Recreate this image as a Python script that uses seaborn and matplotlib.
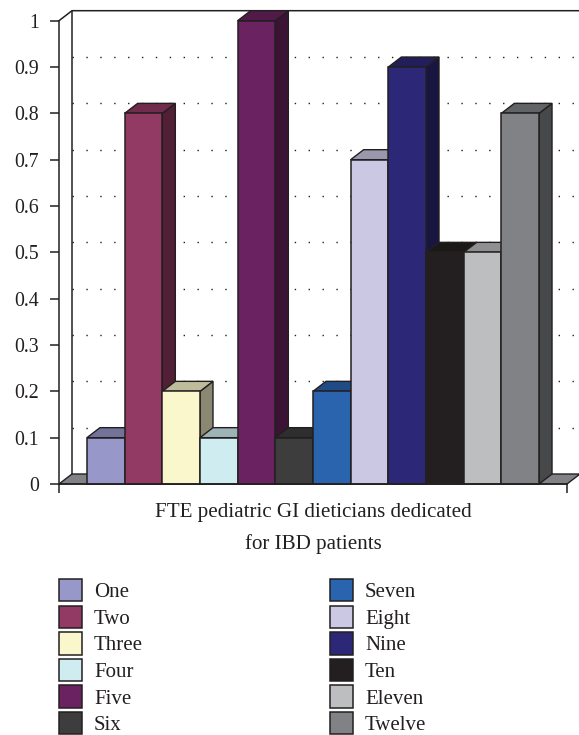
"""
Bar chart with fake 3D depth, FTE dieticians
"""

import matplotlib
matplotlib.use("Agg")
import matplotlib.pyplot as plt
import pandas as pd
import seaborn as sns
from matplotlib.colors import to_rgb
from matplotlib.patches import Polygon

centres = ["One", "Two", "Three", "Four", "Five", "Six",
           "Seven", "Eight", "Nine", "Ten", "Eleven", "Twelve"]
fte = [0.1, 0.8, 0.2, 0.1, 1.0, 0.1, 0.2, 0.7, 0.9, 0.5, 0.5, 0.8]
colors = ["#9797C9", "#933A64", "#FBF7CC", "#CFECF0", "#6B2260", "#3D3D3E",
          "#2A63AE", "#CBC8E4", "#2C2877", "#231F20", "#BDBEC0", "#808285"]
y_ticks = [0, 0.1, 0.2, 0.3, 0.4, 0.5, 0.6, 0.7, 0.8, 0.9, 1]
y_labels = ["0", "0.1", "0.2", "0.3", "0.4", "0.5", "0.6", "0.7", "0.8", "0.9", "1"]
x_title = "FTE pediatric GI dieticians dedicated\nfor IBD patients"

W, H = 579, 735
INK = "#231F20"
LEFT, RIGHT, ZERO, ONE = 59, 567, 484, 20.7
BAR_PX = 37.67
DEPTH_X, DEPTH_Y = 13, 10


def shade(color, factor):
    return tuple(c * factor for c in to_rgb(color))


def main():
    sns.set_style("white")
    plt.rcParams["font.family"] = ["Liberation Serif", "DejaVu Serif"]

    fig = plt.figure(figsize=(W / 100, H / 100), dpi=100)
    ax = fig.add_axes([LEFT / W, 1 - ZERO / H, (RIGHT - LEFT) / W, (ZERO - ONE) / H])

    df = pd.DataFrame({"centre": centres, "fte": fte})
    sns.barplot(data=df, x="centre", y="fte", hue="centre", palette=colors,
                dodge=False, width=1, gap=0, edgecolor=INK, linewidth=1.1,
                saturation=1, legend=True, ax=ax)

    # margen a cada lado de las barras
    pad = (RIGHT - LEFT - BAR_PX * len(centres)) / 2 / BAR_PX
    xmin, xmax = -0.5 - pad, len(centres) - 0.5 + pad
    ax.set_xlim(xmin, xmax)
    ax.set_ylim(0, 1)
    dx = DEPTH_X / BAR_PX
    dy = DEPTH_Y / (ZERO - ONE)

    # pared del fondo, suelo y lineas punteadas
    ax.add_patch(Polygon([(xmin, 0), (xmin + dx, dy), (xmax + dx, dy), (xmax, 0)],
                         closed=True, facecolor="#808285", edgecolor=INK,
                         linewidth=1.0, clip_on=False, zorder=1))
    ax.plot([xmin + dx, xmin + dx], [dy, 1 + dy], color=INK, lw=1.1, clip_on=False, zorder=1)
    ax.plot([xmin, xmin + dx, xmax + dx], [1, 1 + dy, 1 + dy], color=INK, lw=1.1,
            clip_on=False, zorder=1)
    for t in y_ticks[1:-1]:
        ax.plot([xmin + dx, xmax + dx], [t + dy, t + dy], color=INK, lw=1.0,
                linestyle=(0, (1, 9)), clip_on=False, zorder=1)

    # caras superior y lateral de cada barra
    for i, bar in enumerate(ax.patches[:len(centres)]):
        x0, x1 = bar.get_x(), bar.get_x() + bar.get_width()
        h = bar.get_height()
        face = colors[i]
        top = Polygon([(x0, h), (x0 + dx, h + dy), (x1 + dx, h + dy), (x1, h)], closed=True,
                      facecolor=shade(face, 0.76), edgecolor=INK, linewidth=1.0, clip_on=False)
        side = Polygon([(x1, 0), (x1 + dx, dy), (x1 + dx, h + dy), (x1, h)], closed=True,
                       facecolor=shade(face, 0.55), edgecolor=INK, linewidth=1.0, clip_on=False)
        top.set_zorder(3 + i)
        side.set_zorder(3 + i)
        bar.set_zorder(3 + i + 0.5)
        bar.set_clip_on(False)
        ax.add_patch(side)
        ax.add_patch(top)

    ax.set_yticks(y_ticks)
    ax.set_yticklabels(y_labels, fontsize=14.3, color=INK)
    ax.set_xticks([xmin, xmax])
    ax.set_xticklabels(["", ""])
    ax.tick_params(axis="both", direction="out", length=6.5, width=1.1, color=INK,
                   left=True, bottom=True, pad=8)
    ax.set_ylabel("")
    ax.set_xlabel(x_title, fontsize=15.1, color=INK, linespacing=1.8, labelpad=-0.5)
    for name, spine in ax.spines.items():
        spine.set_visible(name in ("left", "bottom"))
        spine.set_color(INK)
        spine.set_linewidth(1.1)
        spine.set_zorder(30)

    # leyenda en dos columnas
    handles, labels = ax.get_legend_handles_labels()
    ax.get_legend().remove()
    fs = 15
    fig.legend(handles, labels, ncols=2, frameon=False, fontsize=fs,
               labelcolor=INK, loc="upper left", bbox_to_anchor=(59 / W, 1 - 579 / H),
               borderaxespad=0, borderpad=0, handlelength=16.5 / fs, handleheight=19.15 / fs,
               handletextpad=0.58, labelspacing=0.163, columnspacing=8.97)

    fig.savefig("out.png", dpi=100, facecolor="white")
    plt.close(fig)


if __name__ == "__main__":
    main()
